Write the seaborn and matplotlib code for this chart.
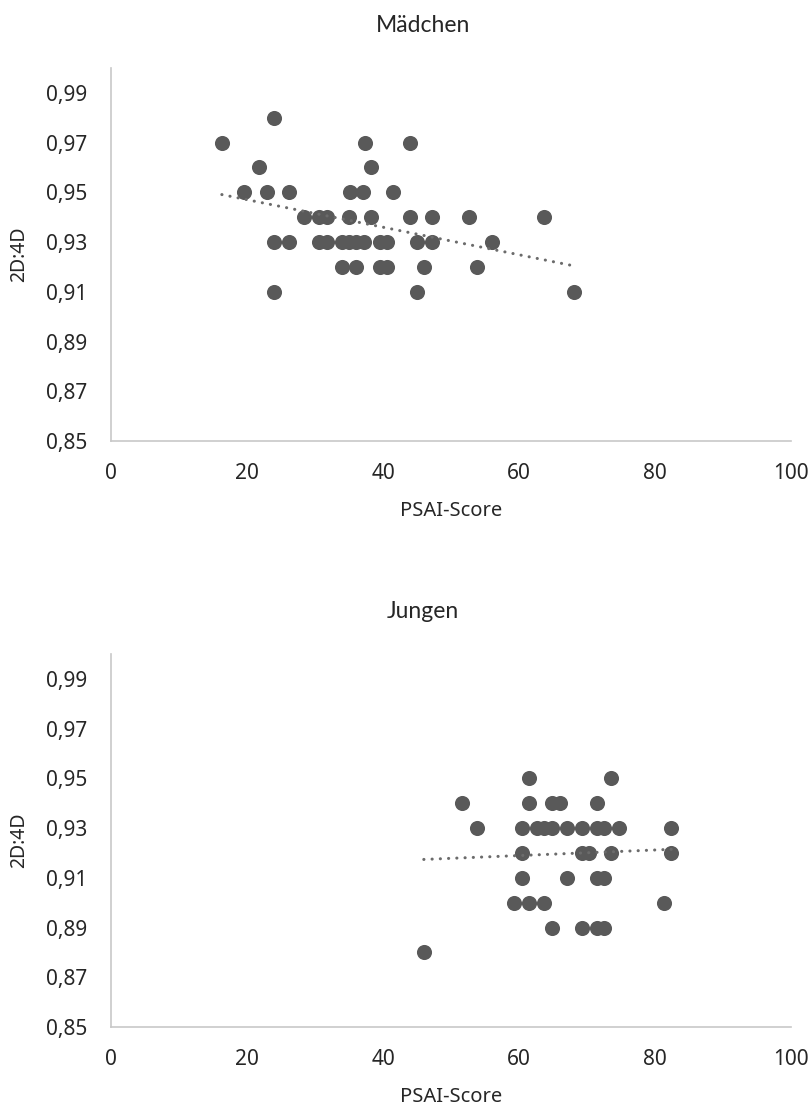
import numpy as np
import pandas as pd
import matplotlib
matplotlib.use("Agg")
import matplotlib.pyplot as plt
import seaborn as sns
from matplotlib.ticker import FuncFormatter

# Mädchen data (PSAI-Score, 2D:4D)
girls_psai = [24.0, 16.3, 37.3, 43.9, 21.8, 38.3,
              19.6, 22.9, 26.2, 35.2, 37.1, 41.5,
              28.4, 30.6, 31.7, 35.0, 38.3, 43.9, 47.2, 52.6, 63.7,
              24.0, 26.2, 30.6, 31.7, 33.9, 35.0, 36.1, 37.2, 39.6, 40.6, 45.0, 47.2, 56.0,
              33.9, 36.1, 39.6, 40.6, 46.1, 53.8,
              24.0, 45.0, 68.1]
girls_ratio = [0.98, 0.97, 0.97, 0.97, 0.96, 0.96,
               0.95, 0.95, 0.95, 0.95, 0.95, 0.95,
               0.94, 0.94, 0.94, 0.94, 0.94, 0.94, 0.94, 0.94, 0.94,
               0.93, 0.93, 0.93, 0.93, 0.93, 0.93, 0.93, 0.93, 0.93, 0.93, 0.93, 0.93, 0.93,
               0.92, 0.92, 0.92, 0.92, 0.92, 0.92,
               0.91, 0.91, 0.91]

# Jungen data
boys_psai = [61.5, 73.6,
             51.6, 61.5, 64.8, 66.0, 71.4,
             53.8, 60.4, 62.6, 63.7, 64.8, 67.0, 69.2, 71.4, 72.5, 74.7, 82.3,
             60.4, 69.2, 70.3, 73.6, 82.4,
             60.4, 67.0, 71.4, 72.5,
             59.3, 61.5, 63.7, 81.3,
             64.8, 69.2, 71.4, 72.5,
             46.0]
boys_ratio = [0.95, 0.95,
              0.94, 0.94, 0.94, 0.94, 0.94,
              0.93, 0.93, 0.93, 0.93, 0.93, 0.93, 0.93, 0.93, 0.93, 0.93, 0.93,
              0.92, 0.92, 0.92, 0.92, 0.92,
              0.91, 0.91, 0.91, 0.91,
              0.90, 0.90, 0.90, 0.90,
              0.89, 0.89, 0.89, 0.89,
              0.88]

titles = ["Mädchen", "Jungen"]
x_ticks = [0, 20, 40, 60, 80, 100]
y_ticks = [0.85, 0.87, 0.89, 0.91, 0.93, 0.95, 0.97, 0.99]

sns.set_style("white")
plt.rcParams['font.family'] = ['Noto Sans', 'DejaVu Sans']

fig = plt.figure(figsize=(8.11, 11.08), dpi=100)
H = 1108.0
axes_px = [(68, 441), (654, 1027)]   # (top, bottom) in pixels
title_px = [25, 611]

mark_col = "#595959"
line_col = "#6b6b6b"
axis_col = "#c8c8c8"
text_col = "#262626"

datasets = [(girls_psai, girls_ratio), (boys_psai, boys_ratio)]
for i, (xs, ys) in enumerate(datasets):
    top, bot = axes_px[i]
    ax = fig.add_axes([111 / 811, 1 - bot / H, 680 / 811, (bot - top) / H])
    df = pd.DataFrame({"PSAI-Score": xs, "2D:4D": ys})
    sns.regplot(data=df, x="PSAI-Score", y="2D:4D", ax=ax, ci=None, truncate=True,
                scatter_kws=dict(s=118, color=mark_col, alpha=1, linewidths=0, zorder=3),
                line_kws=dict(color=line_col, lw=2.2, linestyle=(0, (0.05, 2.65)),
                              dash_capstyle="round", zorder=4))
    ax.set_xlim(0, 100)
    ax.set_ylim(0.85, 1.0)
    ax.set_xticks(x_ticks)
    ax.set_yticks(y_ticks)
    ax.yaxis.set_major_formatter(FuncFormatter(lambda v, p: f"{v:.2f}".replace(".", ",")))
    ax.xaxis.set_major_formatter(FuncFormatter(lambda v, p: f"{int(round(v))}"))
    for s in ["top", "right"]:
        ax.spines[s].set_visible(False)
    for s in ["left", "bottom"]:
        ax.spines[s].set_color(axis_col)
        ax.spines[s].set_linewidth(1.2)
    ax.tick_params(axis="both", length=0, labelsize=15, colors=text_col)
    ax.tick_params(axis="x", pad=16)
    ax.tick_params(axis="y", pad=17)
    ax.set_xlabel("PSAI-Score", fontsize=14.5, color=text_col, labelpad=12)
    ax.set_ylabel("2D:4D", fontsize=14, color=text_col, labelpad=12)
    ax.grid(False)
    fig.text(423 / 811, 1 - title_px[i] / H, titles[i], ha="center", va="center",
             fontsize=16.5, color=text_col, family=['Lato', 'DejaVu Sans'])

fig.savefig("out.png", dpi=100, facecolor="white")
